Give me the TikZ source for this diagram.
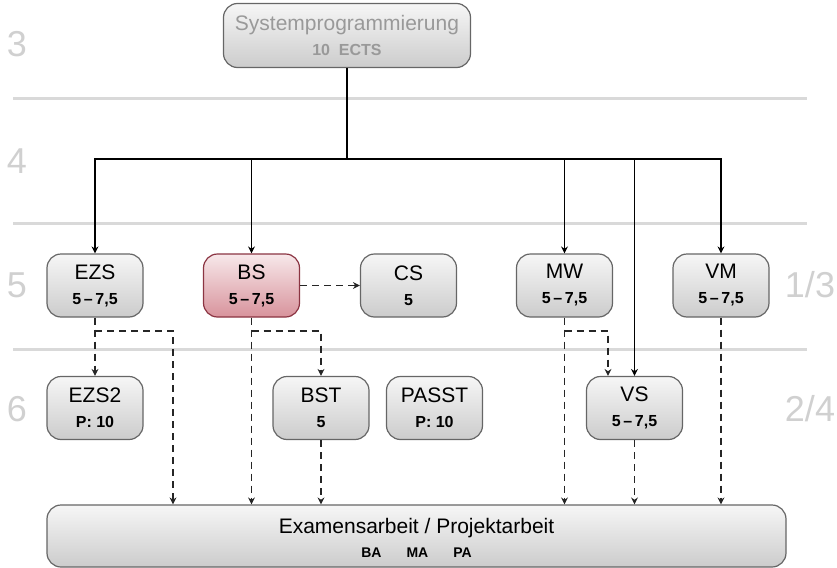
\documentclass[tikz,border=0pt]{standalone}
\usepackage{fontspec}
\setmainfont{Liberation Sans}
\usetikzlibrary{arrows.meta}
\definecolor{sepgray}{HTML}{D9D9D9}
\definecolor{numgray}{HTML}{D0D0D0}
\definecolor{boxborder}{HTML}{666666}
\definecolor{boxtop}{HTML}{F6F6F6}
\definecolor{boxbot}{HTML}{CCCCCC}
\definecolor{redtop}{HTML}{F7E8EA}
\definecolor{redbot}{HTML}{D8939C}
\definecolor{redborder}{HTML}{8B3442}
\definecolor{toptext}{HTML}{999999}
\newcommand\modtext[2]{{#1}\\{\fontsize{8}{12.5}\selectfont\bfseries #2}}
\begin{document}
\begin{tikzpicture}[x=0.5pt,y=-0.5pt,
  modbox/.style={draw=boxborder, line width=0.6pt, rounded corners=7pt,
    top color=boxtop, bottom color=boxbot, minimum width=48pt,
    minimum height=31.5pt, inner sep=0pt, align=center,
    font=\fontsize{10.5}{12.5}\selectfont},
  redbox/.style={modbox, draw=redborder, top color=redtop, bottom color=redbot},
  sep/.style={draw=sepgray, line width=1.5pt},
  semnum/.style={text=numgray, font=\fontsize{18}{20}\selectfont, inner sep=0pt},
  plaintext/.style={inner sep=0pt, anchor=base, font=\fontsize{10.5}{12.5}\selectfont},
  smallbold/.style={inner sep=0pt, anchor=base, font=\fontsize{7}{9}\selectfont\bfseries},
  flow/.style={-{Stealth[length=3.5pt,width=3.5pt]}, line width=0.6pt},
  link/.style={line width=0.6pt},
  opt/.style={flow, dash pattern=on 3.5pt off 2.5pt, draw=black!85},
]
\useasboundingbox (0,0) rectangle (837,568);

% separators
\draw[sep] (13,98) -- (807,98);
\draw[sep] (13,223) -- (807,223);
\draw[sep] (13,349) -- (807,349);

% semester numbers
\node[semnum] (n3) at (17,44) {3};
\node[semnum] (n4) at (17,161) {4};
\node[semnum] (n5) at (17,285) {5};
\node[semnum] (n6) at (17,409) {6};
\node[semnum] (n13) at (810,285) {1/3};
\node[semnum] (n24) at (810,409) {2/4};

% nodes
\node[modbox, minimum width=123.5pt, minimum height=32pt, text=toptext] (sp) at (347,35.5)
  {\modtext{Systemprogrammierung}{10~~ECTS}};

\node[modbox] (ezs) at (95,285.5) {\modtext{EZS}{5\,–\,7,5}};
\node[redbox] (bs) at (251.5,285.5) {\modtext{BS}{5\,–\,7,5}};
\node[modbox] (cs) at (408.5,285.5) {\modtext{CS}{5}};
\node[modbox] (mw) at (564.5,285.5) {\modtext{MW}{5\,–\,7,5}};
\node[modbox] (vm) at (721,285.5) {\modtext{VM}{5\,–\,7,5}};

\node[modbox] (ezs2) at (95,408) {\modtext{EZS2}{P: 10}};
\node[modbox] (bst) at (321,408) {\modtext{BST}{5}};
\node[modbox] (passt) at (434.5,408) {\modtext{PASST}{P: 10}};
\node[modbox] (vs) at (634.5,408) {\modtext{VS}{5\,–\,7,5}};

\node[modbox, minimum width=369.5pt, minimum height=31pt] (exam) at (416.5,536) {};
\node[plaintext] (examtitle) at (416.5,533) {Examensarbeit / Projektarbeit};
\node[smallbold] (examtypes) at (416.5,557.5) {BA\hspace{12.5pt}MA\hspace{12.5pt}PA};

% solid connectors
\coordinate (hub) at (347,159);
\draw[link] (sp.south) -- (hub);
\draw[flow] (hub) -| (ezs.north);
\draw[flow] (hub) -| (vm.north);
\draw[flow] (bs.north |- hub) -- (bs.north);
\draw[flow] (mw.north |- hub) -- (mw.north);
\draw[flow] (vs.north |- hub) -- (vs.north);

% dashed connectors
\coordinate (ezsbend) at (173,331);
\coordinate (bsbend) at (321,331);
\coordinate (mwbend) at (608,331);

\draw[opt] (bs.east) -- (cs.west);

\draw[opt] (ezs.south) -- (ezs2.north);
\draw[opt] (ezs.south |- ezsbend) -- (ezsbend) -- (ezsbend |- exam.north);

\draw[opt] (bs.south) -- (bs.south |- exam.north);
\draw[opt] (bs.south |- bsbend) -- (bsbend) -- (bst.north);
\draw[opt] (bst.south) -- (bst.south |- exam.north);

\draw[opt] (mw.south) -- (mw.south |- exam.north);
\draw[opt] (mw.south |- mwbend) -- (mwbend) -- (mwbend |- vs.north);
\draw[opt] (vs.south) -- (vs.south |- exam.north);
\draw[opt] (vm.south) -- (vm.south |- exam.north);
\end{tikzpicture}
\end{document}
